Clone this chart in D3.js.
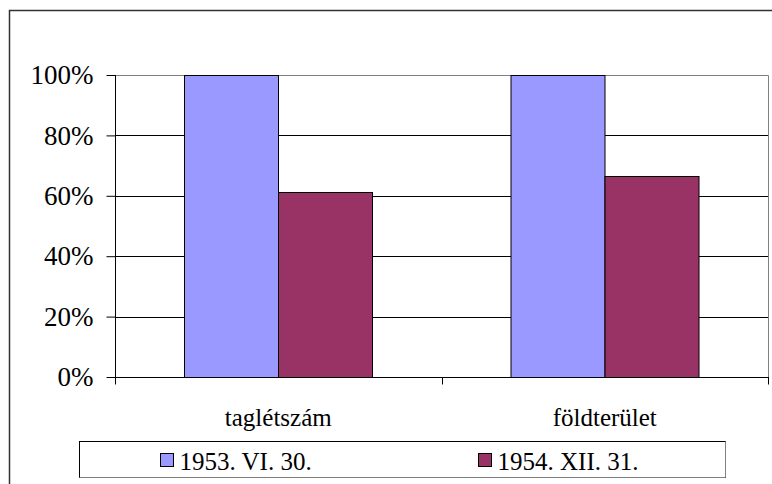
<!DOCTYPE html>
<html>
<head>
<meta charset="utf-8">
<script src="https://cdn.jsdelivr.net/npm/d3@7"></script>
<style>
  html, body { margin: 0; padding: 0; background: #fff; }
  svg { display: block; }
</style>
</head>
<body>
<svg id="chart" width="772" height="484"></svg>
<script>
"use strict";

// data
const categories = ["taglétszám", "földterület"];
const seriesNames = ["1953. VI. 30.", "1954. XII. 31."];
const series1953 = [1.0, 1.0];
const series1954 = [0.612, 0.667];
const yTicks = [0, 0.2, 0.4, 0.6, 0.8, 1.0];
const colors = ["#9999ff", "#993366"];

const FONT = "'Liberation Serif'";
const serifText = (sel, size) => sel
    .style("font-family", FONT)
    .style("font-size", size + "px")
    .attr("fill", "#000");

const svg = d3.select("#chart");
const plot = { left: 115, right: 768, top: 75, bottom: 377 };

// outer frame, runs off the right and bottom edges
svg.append("rect")
    .attr("x", 9.5).attr("y", 10.5)
    .attr("width", 800).attr("height", 600)
    .attr("fill", "none")
    .attr("stroke", "#333")
    .attr("stroke-width", 1.5);

const x0 = d3.scaleBand(categories, [plot.left, plot.right]).paddingInner(0).paddingOuter(0);
const x1 = d3.scaleBand(seriesNames, [0, x0.bandwidth()]).paddingInner(0).paddingOuter(0.737);
const y = d3.scaleLinear([0, 1], [plot.bottom, plot.top]);

// gridlines
svg.append("g")
    .selectAll("line")
    .data(yTicks.filter(t => t > 0 && t < 1))
    .join("line")
    .attr("x1", plot.left).attr("x2", plot.right)
    .attr("y1", d => Math.round(y(d)) + 0.5)
    .attr("y2", d => Math.round(y(d)) + 0.5)
    .attr("stroke", "#000");

// plot area border (top + right) in gray
svg.append("path")
    .attr("d", `M${plot.left},${plot.top + 0.5}H${plot.right + 0.5}V${plot.bottom}`)
    .attr("fill", "none")
    .attr("stroke", "#808080");

// bars
const rows = categories.map((c, i) => ({ cat: c, values: [series1953[i], series1954[i]] }));
svg.append("g")
    .selectAll("g")
    .data(rows)
    .join("g")
    .attr("transform", d => `translate(${x0(d.cat)},0)`)
    .selectAll("rect")
    .data(d => d.values.map((v, j) => ({ name: seriesNames[j], v, j })))
    .join("rect")
    .attr("x", d => Math.round(x1(d.name)) + 0.5)
    .attr("y", d => Math.round(y(d.v)) + 0.5)
    .attr("width", Math.round(x1.bandwidth()))
    .attr("height", d => Math.round(y(0)) - Math.round(y(d.v)))
    .attr("fill", d => colors[d.j])
    .attr("stroke", "#000");

// y axis
const yAxis = svg.append("g")
    .attr("transform", `translate(${plot.left + 0.5},0)`)
    .call(d3.axisLeft(y).tickValues(yTicks).tickFormat(d3.format(".0%")).tickSize(9).tickPadding(13));
yAxis.select(".domain").attr("stroke", "#000").attr("d", `M0,${plot.top}V${plot.bottom + 0.5}`);
yAxis.selectAll(".tick text").call(serifText, 27);
yAxis.selectAll(".tick line").attr("stroke", "#000");

// x axis
const xAxis = svg.append("g")
    .attr("transform", `translate(0,${plot.bottom + 0.5})`)
    .call(d3.axisBottom(x0).tickSize(0).tickPadding(31));
xAxis.select(".domain").attr("stroke", "#000").attr("d", `M${plot.left},0H${plot.right + 1}`);
xAxis.selectAll(".tick text").call(serifText, 25);
// category boundary ticks
xAxis.append("g")
    .selectAll("line")
    .data([...categories.map(c => x0(c)), plot.right])
    .join("line")
    .attr("x1", d => Math.round(d) + 0.5).attr("x2", d => Math.round(d) + 0.5)
    .attr("y1", 0).attr("y2", 7)
    .attr("stroke", "#000");

// legend
const legend = svg.append("g").attr("transform", "translate(79.5,441.5)");
legend.append("rect")
    .attr("width", 646).attr("height", 36)
    .attr("fill", "#fff")
    .attr("stroke", "#000");
legend.append("path")
    .attr("d", "M646,0V36H0")
    .attr("fill", "none")
    .attr("stroke", "#808080");
const legendX = [81, 399];
const items = legend.selectAll("g.item")
    .data(seriesNames)
    .join("g")
    .classed("item", true)
    .attr("transform", (d, i) => `translate(${legendX[i]},12)`);
items.append("rect")
    .attr("width", 13).attr("height", 13)
    .attr("fill", (d, i) => colors[i])
    .attr("stroke", "#000");
items.append("text")
    .attr("x", 19).attr("y", 16)
    .call(serifText, 25)
    .text(d => d);
</script>
</body>
</html>
